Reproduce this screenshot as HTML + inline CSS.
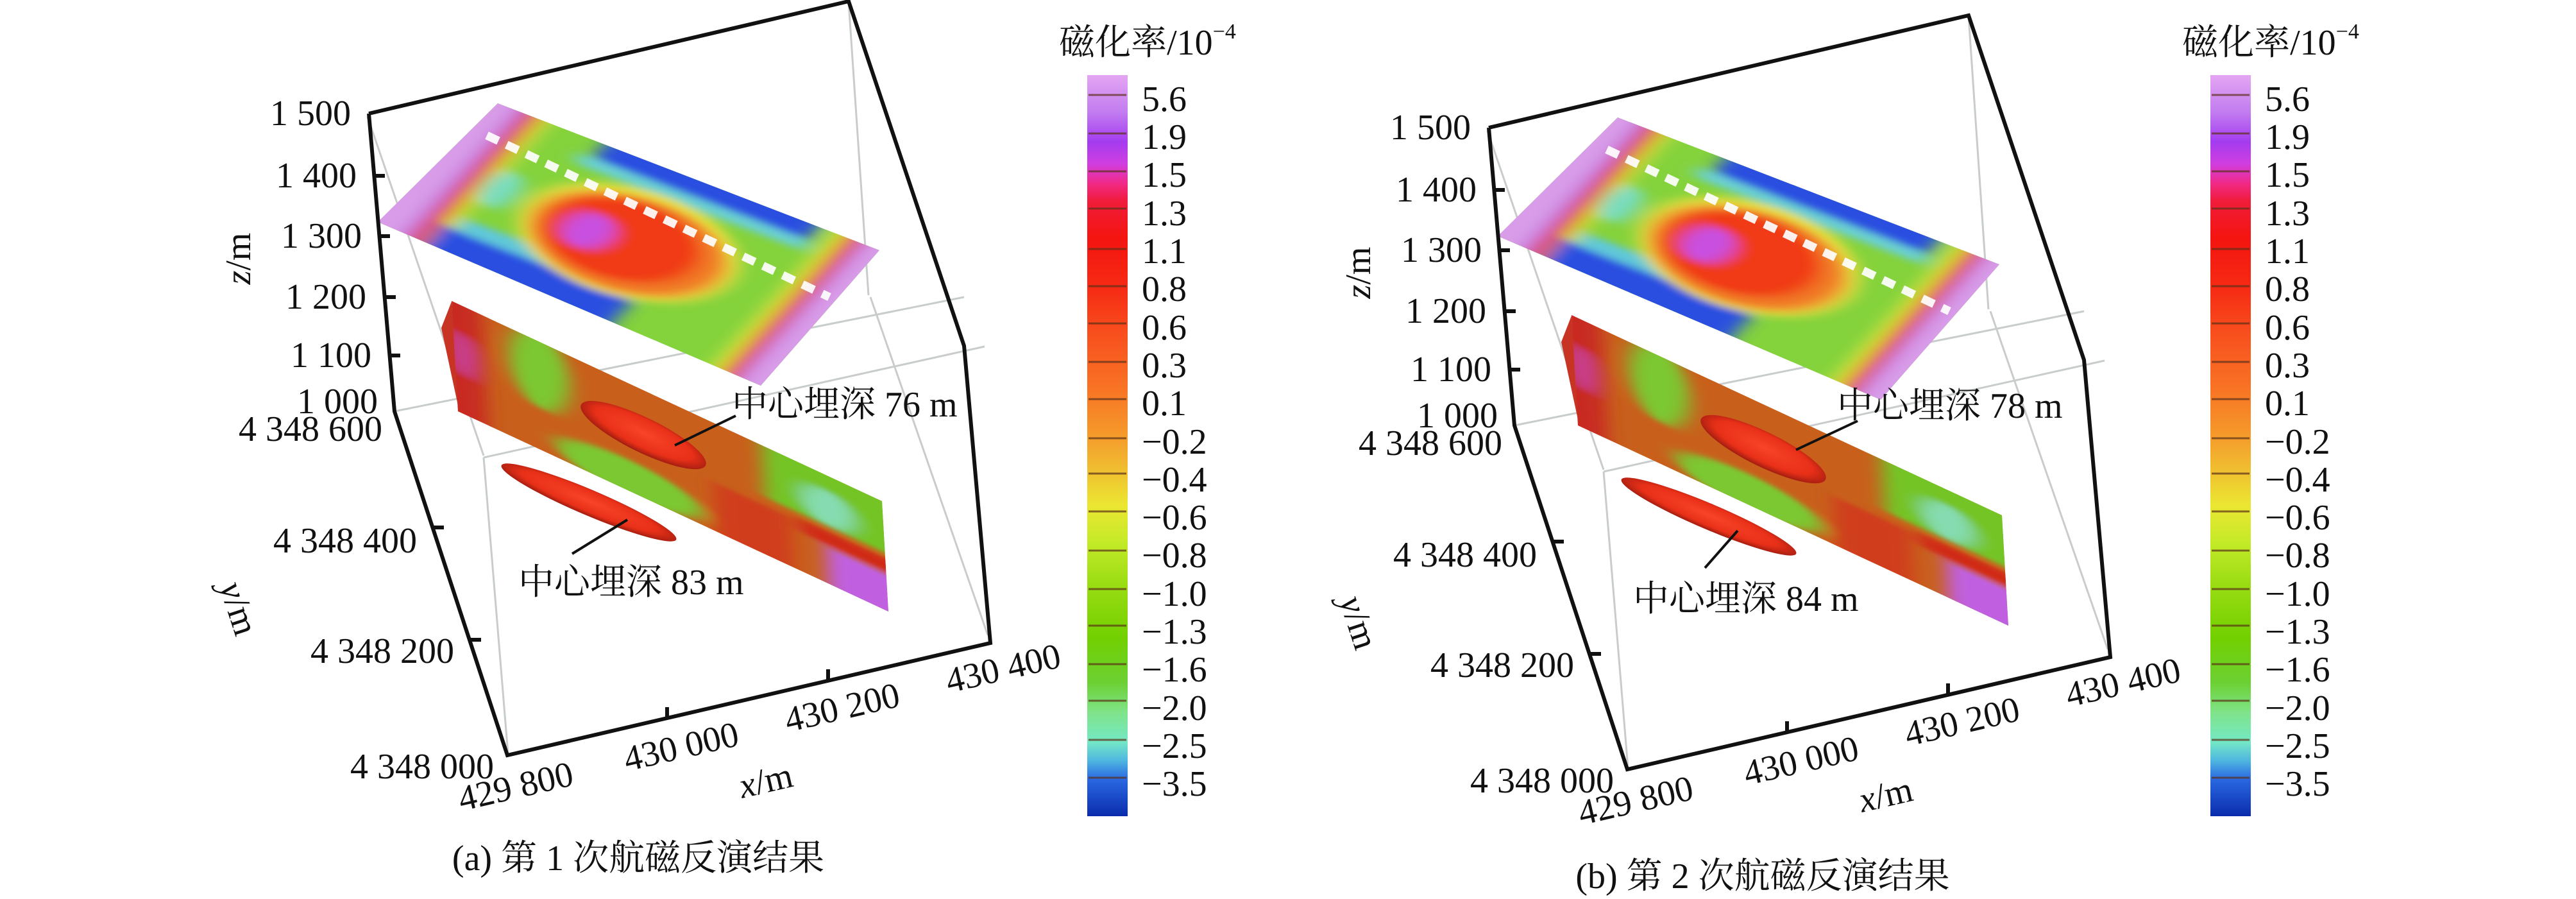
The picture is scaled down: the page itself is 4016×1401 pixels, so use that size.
<!DOCTYPE html>
<html><head><meta charset="utf-8"><style>
html,body{margin:0;padding:0;background:#fff;}
svg{display:block;}
text{font-family:"Liberation Serif","Noto Serif CJK SC",serif;fill:#111;}
</style></head><body>
<svg width="4016" height="1401" viewBox="0 0 4016 1401" xmlns="http://www.w3.org/2000/svg">
<defs>
<filter id="b1" x="-50%" y="-50%" width="200%" height="200%"><feGaussianBlur stdDeviation="2.2"/></filter>
<clipPath id="c1"><rect x="0" y="0" width="100" height="100"/></clipPath>
<clipPath id="ctop"><polygon points="776,161 1371,390 1186,601 589,346"/></clipPath>
<radialGradient id="blobg" cx="0.5" cy="0.45" r="0.55">
<stop offset="0" stop-color="#f84428"/><stop offset="0.7" stop-color="#e83018"/><stop offset="1" stop-color="#a01c10"/>
</radialGradient>
<linearGradient id="cb" x1="0" y1="0" x2="0" y2="1">
<stop offset="0" stop-color="#e4a6f2"/><stop offset="0.05" stop-color="#c27cf0"/>
<stop offset="0.09" stop-color="#a43cf0"/><stop offset="0.12" stop-color="#d03ee0"/>
<stop offset="0.145" stop-color="#f02a8a"/><stop offset="0.17" stop-color="#f01c3a"/>
<stop offset="0.22" stop-color="#f41410"/><stop offset="0.29" stop-color="#f62c14"/>
<stop offset="0.35" stop-color="#f8501e"/><stop offset="0.42" stop-color="#f87224"/>
<stop offset="0.48" stop-color="#f6962a"/><stop offset="0.53" stop-color="#f0bc30"/>
<stop offset="0.58" stop-color="#ece632"/><stop offset="0.63" stop-color="#c4ea28"/>
<stop offset="0.69" stop-color="#98dc12"/><stop offset="0.76" stop-color="#72d000"/>
<stop offset="0.82" stop-color="#6cd034"/><stop offset="0.86" stop-color="#80e48a"/>
<stop offset="0.9" stop-color="#74e8c6"/><stop offset="0.925" stop-color="#4eb6e0"/>
<stop offset="0.95" stop-color="#2a68e2"/><stop offset="1" stop-color="#0a2cac"/>
</linearGradient>
<g id="plot">
  <g stroke="#c8cccc" stroke-width="3" fill="none">
    <line x1="573" y1="182" x2="754" y2="710"/>
    <line x1="615" y1="641" x2="1503" y2="463"/>
    <line x1="754" y1="713" x2="1535" y2="540"/>
    <line x1="1323" y1="3" x2="1354" y2="460"/>
    <line x1="1357" y1="463" x2="1540" y2="990"/>
    <line x1="754" y1="713" x2="792" y2="1175"/>
  </g>
  <g clip-path="url(#ctop)">
  <g transform="matrix(5.96,2.29,-1.87,2.05,776,161)">
      <rect x="-5" y="-5" width="110" height="110" fill="#84d23c"/>
      <g filter="url(#b1)">
        <rect x="-8" y="-5" width="13" height="115" fill="#d89ce8"/>
        <rect x="5" y="-5" width="2.5" height="115" fill="#b860e0"/>
        <rect x="7" y="-5" width="3.5" height="115" fill="#e83818"/>
        <rect x="10.5" y="-5" width="3" height="115" fill="#d8e040"/>
        <ellipse cx="16" cy="48" rx="4" ry="13" fill="#78dcc0"/>
        <rect x="11" y="80" width="50" height="27" fill="#2a50e0"/>
        <rect x="14" y="72" width="46" height="9" fill="#60c8d8"/>
        <rect x="28" y="-5" width="56" height="16" fill="#2a50e0"/>
        <rect x="25" y="10" width="60" height="7" fill="#6ad0d0"/>
        <ellipse cx="50" cy="50" rx="27" ry="34" fill="#e8e040"/>
        <ellipse cx="50" cy="51" rx="24" ry="30" fill="#f07a28"/>
        <ellipse cx="48" cy="50" rx="19" ry="25" fill="#f03a18"/>
        <ellipse cx="40" cy="52" rx="6" ry="12" fill="#c850e0"/>
        <rect x="88" y="-5" width="3" height="115" fill="#e0e840"/>
        <rect x="91" y="-5" width="3.5" height="115" fill="#e83818"/>
        <rect x="94.5" y="-5" width="2.5" height="115" fill="#b860e0"/>
        <rect x="96" y="-5" width="10" height="115" fill="#d89ce8"/>
      </g>
  </g>
  </g>
  <line x1="759" y1="211" x2="1293" y2="463" stroke="#fff" stroke-width="13" stroke-dasharray="20 14" opacity="0.92"/>
  <path d="M688 511 L704 470 L716 641 Z" fill="#c83424"/>
  <g transform="matrix(6.71,3.12,0.10,1.72,704,469)">
    <g clip-path="url(#c1)">
      <rect x="0" y="0" width="100" height="100" fill="#c8601c"/>
      <g filter="url(#b1)">
        <rect x="-5" y="-5" width="12" height="110" fill="#c82c22"/>
        <ellipse cx="2" cy="45" rx="3" ry="20" fill="#c84090"/>
        <ellipse cx="20" cy="26" rx="7" ry="36" fill="#7cc830"/>
        <ellipse cx="40" cy="88" rx="17" ry="17" fill="#7cc830"/>
        <rect x="60" y="55" width="18" height="55" fill="#d03c1c"/>
        <rect x="72" y="-5" width="33" height="52" fill="#74c428"/>
        <ellipse cx="87" cy="30" rx="6" ry="16" fill="#86dcb0"/>
        <rect x="80" y="52" width="25" height="12" fill="#d02c18"/>
        <rect x="86" y="66" width="20" height="40" fill="#c060e0"/>
      </g>
    </g>
  </g>
  <ellipse cx="1003" cy="678" rx="108" ry="27" transform="rotate(26 1003 678)" fill="url(#blobg)"/>
  <ellipse cx="918" cy="783" rx="148" ry="20" transform="rotate(23 918 783)" fill="url(#blobg)"/>
  <g stroke="#111" stroke-width="6" fill="none">
    <polyline points="575,177 1323,2 1503,539 1544,1002 791,1177 615,641 575,177"/>
    <line x1="583" y1="274" x2="600" y2="274"/><line x1="591" y1="368" x2="608" y2="368"/>
    <line x1="600" y1="463" x2="617" y2="463"/><line x1="607" y1="554" x2="624" y2="554"/>
    <line x1="674" y1="822" x2="692" y2="822"/><line x1="732" y1="997" x2="750" y2="997"/>
    <line x1="1040" y1="1120" x2="1040" y2="1102"/><line x1="1291" y1="1061" x2="1291" y2="1043"/>
  </g>
  <g font-size="56" text-anchor="end" dominant-baseline="central">
    <text x="547" y="177">1 500</text><text x="556" y="274">1 400</text>
    <text x="564" y="368">1 300</text><text x="571" y="463">1 200</text>
    <text x="579" y="554">1 100</text><text x="589" y="626">1 000</text>
    <text x="596" y="669">4 348 600</text><text x="650" y="843">4 348 400</text>
    <text x="708" y="1015">4 348 200</text><text x="770" y="1195">4 348 000</text>
  </g>
  <g font-size="56" text-anchor="middle" dominant-baseline="central">
    <text transform="translate(804,1226) rotate(-13)">429 800</text>
    <text transform="translate(1062,1164) rotate(-13)">430 000</text>
    <text transform="translate(1313,1103) rotate(-13)">430 200</text>
    <text transform="translate(1564,1042) rotate(-13)">430 400</text>
    <text transform="translate(1194,1217) rotate(-13)" font-style="italic">x<tspan font-style="normal">/m</tspan></text>
    <text transform="translate(372,403) rotate(-90)" font-style="italic">z<tspan font-style="normal">/m</tspan></text>
    <text transform="translate(372,948) rotate(72)" font-style="italic">y<tspan font-style="normal">/m</tspan></text>
  </g>
</g>
<g id="cbar">
  <text x="1789" y="67" font-size="56" text-anchor="middle" dominant-baseline="central">磁化率/10<tspan font-size="34" dy="-18">−4</tspan></text>
  <rect x="1695" y="117" width="63" height="1155" fill="url(#cb)"/>
  <g stroke="#5a3018" stroke-width="3" opacity="0.7">
    <line x1="1697" y1="148" x2="1756" y2="148"/><line x1="1697" y1="208" x2="1756" y2="208"/>
    <line x1="1697" y1="267" x2="1756" y2="267"/><line x1="1697" y1="325" x2="1756" y2="325"/>
    <line x1="1697" y1="388" x2="1756" y2="388"/><line x1="1697" y1="446" x2="1756" y2="446"/>
    <line x1="1697" y1="504" x2="1756" y2="504"/><line x1="1697" y1="564" x2="1756" y2="564"/>
    <line x1="1697" y1="622" x2="1756" y2="622"/><line x1="1697" y1="683" x2="1756" y2="683"/>
    <line x1="1697" y1="738" x2="1756" y2="738"/><line x1="1697" y1="797" x2="1756" y2="797"/>
    <line x1="1697" y1="858" x2="1756" y2="858"/><line x1="1697" y1="918" x2="1756" y2="918"/>
    <line x1="1697" y1="975" x2="1756" y2="975"/><line x1="1697" y1="1035" x2="1756" y2="1035"/>
    <line x1="1697" y1="1092" x2="1756" y2="1092"/><line x1="1697" y1="1153" x2="1756" y2="1153"/>
    <line x1="1697" y1="1212" x2="1756" y2="1212"/>
  </g>
  <g font-size="56" dominant-baseline="central">
    <text x="1780" y="155">5.6</text><text x="1780" y="214">1.9</text>
    <text x="1780" y="273">1.5</text><text x="1780" y="333">1.3</text>
    <text x="1780" y="392">1.1</text><text x="1780" y="451">0.8</text>
    <text x="1780" y="511">0.6</text><text x="1780" y="570">0.3</text>
    <text x="1780" y="629">0.1</text><text x="1780" y="689">−0.2</text>
    <text x="1780" y="748">−0.4</text><text x="1780" y="807">−0.6</text>
    <text x="1780" y="866">−0.8</text><text x="1780" y="926">−1.0</text>
    <text x="1780" y="985">−1.3</text><text x="1780" y="1044">−1.6</text>
    <text x="1780" y="1104">−2.0</text><text x="1780" y="1163">−2.5</text>
    <text x="1780" y="1222">−3.5</text>
  </g>
</g>
</defs>

<use href="#plot"/>
<use href="#cbar"/>
<g font-size="56" dominant-baseline="central">
  <text x="1141" y="631">中心埋深 76 m</text>
  <text x="808" y="908">中心埋深 83 m</text>
</g>
<g stroke="#111" stroke-width="4">
  <line x1="1147" y1="648" x2="1052" y2="694"/>
  <line x1="978" y1="810" x2="892" y2="863"/>
</g>
<text x="995" y="1338" font-size="56" text-anchor="middle" dominant-baseline="central">(a) 第 1 次航磁反演结果</text>

<g transform="translate(1746,22)">
  <use href="#plot"/>
  <g font-size="56" dominant-baseline="central">
    <text x="1118" y="611">中心埋深 78 m</text>
    <text x="800" y="912">中心埋深 84 m</text>
  </g>
  <g stroke="#111" stroke-width="4">
    <line x1="1150" y1="634" x2="1054" y2="679"/>
    <line x1="963" y1="805" x2="912" y2="863"/>
  </g>
</g>
<g transform="translate(1751,0)">
  <use href="#cbar"/>
</g>
<text x="2748" y="1366" font-size="56" text-anchor="middle" dominant-baseline="central">(b) 第 2 次航磁反演结果</text>
</svg>
</body></html>
